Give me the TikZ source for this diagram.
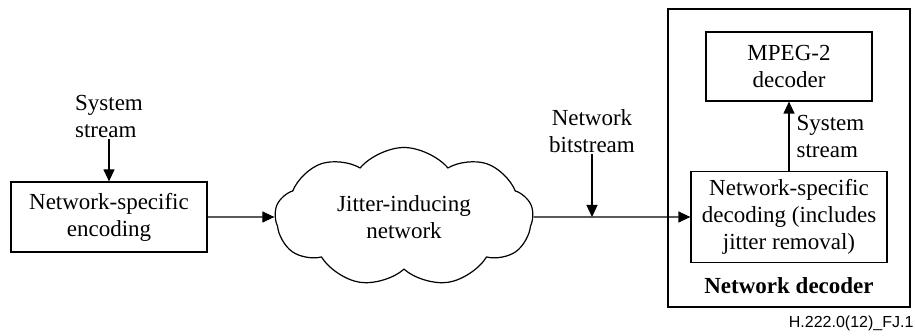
\documentclass[tikz,border=0pt]{standalone}
\usepackage{fontspec}
\setmainfont{Liberation Serif}
\newfontfamily\labelfont{Liberation Sans}
\usetikzlibrary{arrows.meta, positioning, shapes.symbols}

\begin{document}
\begin{tikzpicture}[x=1pt, y=-1pt, line width=1.2pt,
    >={Triangle[length=12pt, width=11pt]},
    every node/.style={font=\fontsize{23}{27}\selectfont},
    box/.style={draw, align=center, inner sep=2pt}]
    \useasboundingbox (0,0) rectangle (915,336);
    % nodes
    \node (enc) [box, minimum width=196pt, minimum height=70pt] at (109,217) {Network-specific\\encoding};
    \node (sysin) [align=left, above=42pt of enc, inner sep=1pt] {System\\stream};
    \node (net) [cloud, draw, cloud puffs=9, cloud puff arc=100, aspect=1.85,
        minimum width=258pt, minimum height=139pt, inner sep=0pt, align=center] at (404,217) {Jitter-inducing\\network};
    \node (frame) [draw, minimum width=242pt, minimum height=298pt] at (789,158) {};
    \node (mpeg) [box, minimum width=166pt, minimum height=69pt] at (789,66.5) {MPEG-2\\decoder};
    \node (dec) [box, minimum width=196pt, minimum height=91pt] at (789,217) {Network-specific\\decoding (includes\\jitter removal)};
    \node (sysout) [align=left, anchor=west, inner sep=1pt] at (795,137) {System\\stream};
    \node (title) [font=\fontsize{23}{27}\selectfont\bfseries] at (789,286) {Network decoder};
    \node (bits) [align=center, inner sep=1pt] at (592,131) {Network\\bitstream};
    \coordinate (junc) at (592,217);
    \node (tag) [anchor=east, font=\labelfont\fontsize{16}{18}\selectfont, inner sep=0pt] at (914,323) {H.222.0(12)\_FJ.1};

    % arrows
    \draw[->] (sysin) -- (enc);
    \draw[->] (enc) -- (net);
    \draw[->] (net) -- (dec);
    \draw[->] (bits) -- (junc);
    \draw[->] (dec) -- (mpeg);
\end{tikzpicture}
\end{document}
